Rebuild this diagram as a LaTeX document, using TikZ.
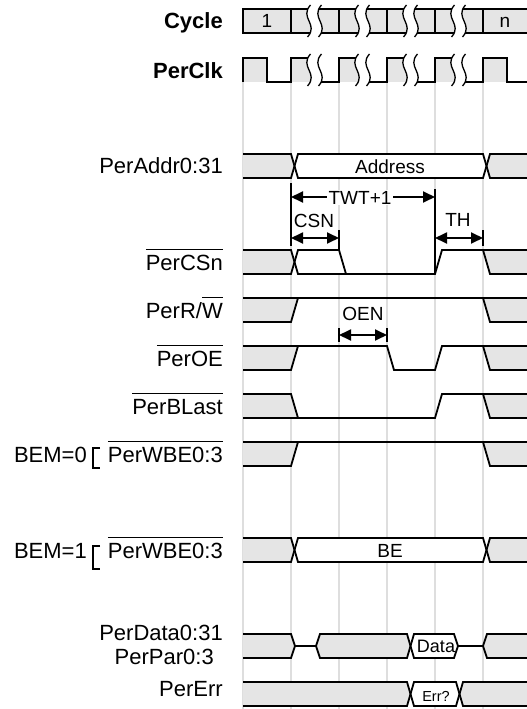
\documentclass[tikz,border=0pt]{standalone}
\usepackage{fontspec}
\setmainfont{Liberation Sans}
\usetikzlibrary{arrows.meta}
\definecolor{fillg}{RGB}{229,229,229}
\definecolor{gridg}{RGB}{222,222,222}
\newcommand{\ovl}[1]{\vbox{\hrule height 1.6pt\kern 4.5pt\hbox{#1}}}
\newcommand{\brk}[3]{% #1 grid x, #2 top, #3 bottom
  \pgfmathsetmacro{\bya}{#2-4}\pgfmathsetmacro{\byb}{#3+4}%
  \pgfmathsetmacro{\byp}{\bya+0.4*(\byb-\bya)}\pgfmathsetmacro{\byq}{\bya+0.6*(\byb-\bya)}%
  \pgfmathsetmacro{\bxl}{#1+18}\pgfmathsetmacro{\bxr}{#1+29}%
  \fill[white] (\bxl+1.5,\bya) .. controls (\bxl-10,\byp) and (\bxl+10,\byq) .. (\bxl-1.5,\byb)
     -- (\bxr-1.5,\byb) .. controls (\bxr+10,\byq) and (\bxr-10,\byp) .. (\bxr+1.5,\bya) -- cycle;
  \draw[brkl] (\bxl+1.5,\bya) .. controls (\bxl-10,\byp) and (\bxl+10,\byq) .. (\bxl-1.5,\byb);
  \draw[brkl] (\bxr+1.5,\bya) .. controls (\bxr-10,\byp) and (\bxr+10,\byq) .. (\bxr-1.5,\byb);
}
\newcommand{\busrow}[1]{%
  \pgfmathsetmacro{\rT}{#1}\pgfmathsetmacro{\rM}{#1+12}\pgfmathsetmacro{\rB}{#1+24}%
  \fill[fillg] (243,\rT) -- (291,\rT) -- (294.5,\rM) -- (291,\rB) -- (243,\rB) -- cycle;
  \fill[white] (294.5,\rM) -- (298,\rT) -- (483,\rT) -- (486.5,\rM) -- (483,\rB) -- (298,\rB) -- cycle;
  \fill[fillg] (527,\rT) -- (490,\rT) -- (486.5,\rM) -- (490,\rB) -- (527,\rB) -- cycle;
  \draw[wv] (243,\rT) -- (291,\rT) -- (298,\rB) -- (483,\rB) -- (490,\rT) -- (527,\rT);
  \draw[wv] (243,\rB) -- (291,\rB) -- (298,\rT) -- (483,\rT) -- (490,\rB) -- (527,\rB);
}
\newcommand{\hirow}[1]{%
  \pgfmathsetmacro{\rT}{#1}\pgfmathsetmacro{\rB}{#1+24}%
  \fill[fillg] (243,\rT) -- (298,\rT) -- (291,\rB) -- (243,\rB) -- cycle;
  \fill[fillg] (483,\rT) -- (527,\rT) -- (527,\rB) -- (490,\rB) -- cycle;
  \draw[wv] (243,\rB) -- (291,\rB) -- (298,\rT);
  \draw[wv] (243,\rT) -- (527,\rT);
  \draw[wv] (483,\rT) -- (490,\rB) -- (527,\rB);
}
\begin{document}
\begin{tikzpicture}[x=1pt,y=-1pt,
  wv/.style={line width=1.8pt, line join=miter},
  brkl/.style={line width=1.3pt},
  gridl/.style={draw=gridg, line width=1.5pt},
  dim/.style={line width=1.8pt, {Triangle[length=12pt,width=11pt]}-{Triangle[length=12pt,width=11pt]}},
  lab/.style={anchor=base east, inner sep=0pt, font=\fontsize{22}{26}\selectfont},
  blab/.style={anchor=base east, inner sep=0pt, font=\fontsize{22}{26}\selectfont\bfseries},
  itxt/.style={anchor=base, inner sep=0pt, font=\fontsize{19}{22}\selectfont}]
\useasboundingbox (0,0) rectangle (527,709);

% grid
\foreach \gx in {243,291,339,387,435,483} \draw[gridl] (\gx,82) -- (\gx,709);

% Cycle
\fill[fillg] (243,9) rectangle (527,33);
\draw[wv] (527,9) -- (243,9) -- (243,33) -- (527,33);
\foreach \gx in {291,339,387,435,483} \draw[wv] (\gx,9) -- (\gx,33);
\node[itxt] (c1) at (267,28) {1};
\node[itxt] (cn) at (505,28) {n};

% PerClk
\foreach \gx in {243,291,339,387,435,483} \fill[fillg] (\gx,58) rectangle (\gx+24,82);
\draw[wv] (243,82) -- (243,58) -- (267,58) -- (267,82) -- (291,82) -- (291,58) -- (315,58) -- (315,82)
  -- (339,82) -- (339,58) -- (363,58) -- (363,82) -- (387,82) -- (387,58) -- (411,58) -- (411,82)
  -- (435,82) -- (435,58) -- (459,58) -- (459,82) -- (483,82) -- (483,58) -- (507,58) -- (507,82) -- (527,82);

\foreach \gx in {291,339,387,435} {\brk{\gx}{9}{33}\brk{\gx}{58}{82}}

% PerAddr
\busrow{154}
\node[itxt] (addr) at (390,173) {Address};

% PerCSn
\fill[fillg] (243,250) -- (291,250) -- (294.5,262) -- (291,274) -- (243,274) -- cycle;
\fill[white] (294.5,262) -- (298,250) -- (339,250) -- (346,274) -- (298,274) -- cycle;
\fill[fillg] (483,250) -- (527,250) -- (527,274) -- (490,274) -- cycle;
\draw[wv] (243,250) -- (291,250) -- (298,274) -- (435,274) -- (442,250) -- (527,250);
\draw[wv] (243,274) -- (291,274) -- (298,250) -- (339,250) -- (346,274);
\draw[wv] (483,250) -- (490,274) -- (527,274);

% timing annotations
\draw[wv] (291,183) -- (291,246);
\draw[wv] (435,189) -- (435,274);
\draw[dim] (291,197) -- (435,197);
\node[itxt, fill=white, inner xsep=2pt, inner ysep=1pt] (twt) at (360,204) {TWT+1};
\draw[dim] (291,238) -- (339,238);
\draw[wv] (339,230) -- (339,250);
\node[itxt] (csn) at (314,227) {CSN};
\draw[dim] (435,238) -- (483,238);
\draw[wv] (483,230) -- (483,246);
\node[itxt] (th) at (458,226) {TH};

% PerR/W
\hirow{298}

% OEN
\draw[dim] (339,335) -- (387,335);
\draw[wv] (339,328) -- (339,342);
\draw[wv] (387,328) -- (387,342);
\node[itxt] (oen) at (363,320) {OEN};

% PerOE
\fill[fillg] (243,346) -- (298,346) -- (291,370) -- (243,370) -- cycle;
\fill[fillg] (483,346) -- (527,346) -- (527,370) -- (490,370) -- cycle;
\draw[wv] (243,370) -- (291,370) -- (298,346);
\draw[wv] (243,346) -- (387,346) -- (394,370) -- (435,370) -- (442,346) -- (527,346);
\draw[wv] (483,346) -- (490,370) -- (527,370);

% PerBLast
\fill[fillg] (243,394) -- (291,394) -- (298,418) -- (243,418) -- cycle;
\fill[fillg] (483,394) -- (527,394) -- (527,418) -- (490,418) -- cycle;
\draw[wv] (243,394) -- (291,394) -- (298,418);
\draw[wv] (243,418) -- (435,418) -- (442,394) -- (527,394);
\draw[wv] (483,394) -- (490,418) -- (527,418);

% PerWBE BEM=0
\hirow{442}

% PerWBE BEM=1
\busrow{538}
\node[itxt] (be) at (390,557) {BE};

% PerData
\fill[fillg] (243,634) -- (291,634) -- (295,646) -- (291,658) -- (243,658) -- cycle;
\draw[wv] (243,634) -- (291,634) -- (295,646) -- (291,658) -- (243,658);
\draw[wv] (295,646) -- (316,646);
\fill[fillg] (316,646) -- (320,634) -- (407,634) -- (410.5,646) -- (407,658) -- (320,658) -- cycle;
\fill[white] (410.5,646) -- (414,634) -- (454,634) -- (458,646) -- (454,658) -- (414,658) -- cycle;
\draw[wv] (316,646) -- (320,634) -- (407,634) -- (414,658) -- (454,658) -- (458,646);
\draw[wv] (316,646) -- (320,658) -- (407,658) -- (414,634) -- (454,634) -- (458,646);
\draw[wv] (458,646) -- (483,646);
\fill[fillg] (483,646) -- (487,634) -- (527,634) -- (527,658) -- (487,658) -- cycle;
\draw[wv] (527,634) -- (487,634) -- (483,646) -- (487,658) -- (527,658);
\node[itxt, font=\fontsize{18}{21}\selectfont] (data) at (436,652.5) {Data};

% PerErr
\fill[fillg] (243,682) -- (407,682) -- (410.5,694) -- (407,706) -- (243,706) -- cycle;
\fill[white] (410.5,694) -- (414,682) -- (456,682) -- (459.5,694) -- (456,706) -- (414,706) -- cycle;
\fill[fillg] (527,682) -- (463,682) -- (459.5,694) -- (463,706) -- (527,706) -- cycle;
\draw[wv] (243,682) -- (407,682) -- (414,706) -- (456,706) -- (463,682) -- (527,682);
\draw[wv] (243,706) -- (407,706) -- (414,682) -- (456,682) -- (463,706) -- (527,706);
\node[itxt, font=\fontsize{14.5}{17}\selectfont] (err) at (436,701) {Err?};

% labels
\node[blab] (lcyc) at (223,29) {Cycle};
\node[blab] (lclk) at (223,78) {PerClk};
\node[lab] (laddr) at (223,173) {PerAddr0:31};
\node[lab] (lcs) at (223,270) {\ovl{PerCSn}};
\node[lab] (lrw) at (223,318) {PerR/\ovl{W}};
\node[lab] (loe) at (223,366) {\ovl{PerOE}};
\node[lab] (lbl) at (223,414) {\ovl{PerBLast}};
\node[lab] (lwb0) at (223,462) {\ovl{PerWBE0:3}};
\node[lab] (bem0) at (87,462) {BEM=0};
\node[lab] (lwb1) at (223,558) {\ovl{PerWBE0:3}};
\node[lab] (bem1) at (87,558) {BEM=1};
\node[lab] (ldat) at (223,640) {PerData0:31};
\node[lab] (lpar) at (214,664) {PerPar0:3};
\node[lab] (lerr) at (223,696) {PerErr};

% brackets
\draw[line width=1.8pt] (100,448) -- (93,448) -- (93,468) -- (100,468);
\draw[line width=1.8pt] (100,546) -- (93,546) -- (93,569) -- (100,569);
\end{tikzpicture}
\end{document}
